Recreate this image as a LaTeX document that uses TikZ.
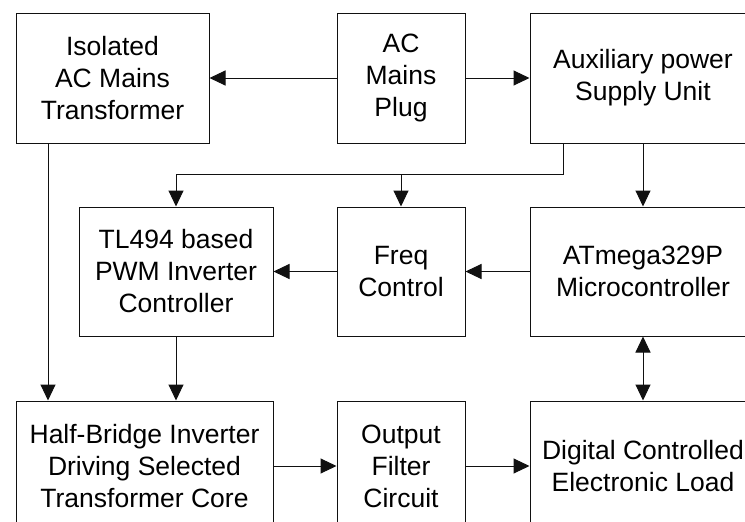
\documentclass[tikz,border=0pt]{standalone}
\usepackage{fontspec}
\setmainfont{Liberation Sans}
\usepackage{tikz}
\usetikzlibrary{arrows.meta,positioning,calc}
\definecolor{Ink}{HTML}{111111}
\tikzset{
  box/.style={draw=Ink, line width=1pt, fill=white, align=center,
              minimum height=130pt, inner sep=0pt,
              font=\fontsize{26.5}{32}\selectfont},
  arrow/.style={-{Triangle[length=16pt,width=15pt]}, line width=1pt, draw=Ink},
  twoway/.style={{Triangle[length=16pt,width=15pt]}-{Triangle[length=16pt,width=15pt]},
                 line width=1pt, draw=Ink},
  wire/.style={line width=1pt, draw=Ink},
}

\begin{document}
\begin{tikzpicture}[x=1pt, y=-1pt]
  \clip (0,0) rectangle (745,522);
  \fill[white] (0,0) rectangle (745,522);
  % top row
  \node[box, minimum width=193pt] (iso) at (112.5,78) {Isolated\\AC Mains\\Transformer};
  \node[box, minimum width=128pt] (plug) at (401,78) {AC\\Mains\\Plug};
  \node[box, minimum width=226pt] (aux) at (643,78) {Auxiliary power\\Supply Unit};
  % middle row
  \node[box, minimum width=194pt, minimum height=129pt] (tl) at (176,271.5) {TL494 based\\PWM Inverter\\Controller};
  \node[box, minimum width=128pt, minimum height=129pt] (freq) at (401,271.5) {Freq\\Control};
  \node[box, minimum width=226pt, minimum height=129pt] (mcu) at (643,271.5) {ATmega329P\\Microcontroller};
  % bottom row
  \node[box, minimum width=257pt] (half) at (144.5,466) {Half-Bridge Inverter\\Driving Selected\\Transformer Core};
  \node[box, minimum width=128pt] (filt) at (401,466) {Output\\Filter\\Circuit};
  \node[box, minimum width=226pt] (load) at (643,466) {Digital Controlled\\Electronic Load};

  \draw[arrow] (plug) -- (iso);
  \draw[arrow] (plug) -- (aux);
  \draw[arrow] ([xshift=-64.5pt]iso.south) -- ([xshift=-64.5pt]iso.south |- half.north);
  \coordinate (split) at ($(aux.south)+(-80,31)$);
  \draw[wire] ([xshift=-80pt]aux.south) -- (split);
  \draw[arrow] (split) -| (tl.north);
  \draw[arrow] (freq.north |- split) -- (freq.north);
  \draw[arrow] (aux) -- (mcu);
  \draw[arrow] (mcu) -- (freq);
  \draw[arrow] (freq) -- (tl);
  \draw[arrow] (tl.south) -- (tl.south |- half.north);
  \draw[twoway] (mcu) -- (load);
  \draw[arrow] (half.east |- filt.west) -- (filt.west);
  \draw[arrow] (filt) -- (load);
\end{tikzpicture}
\end{document}
